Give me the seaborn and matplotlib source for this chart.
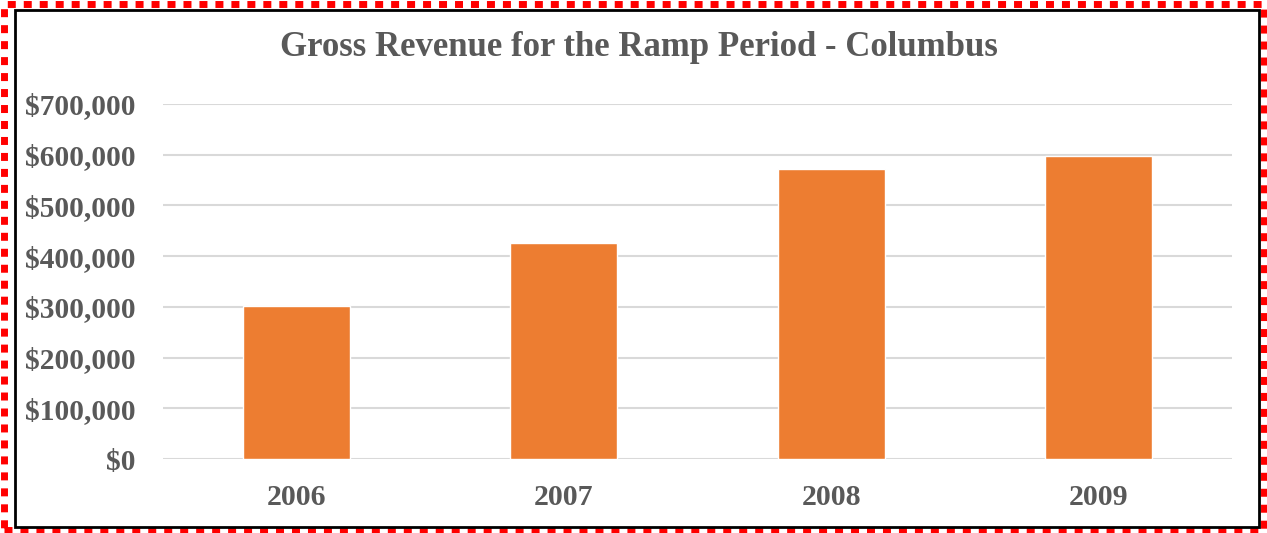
"""
Gross revenue bar chart - Columbus ramp period
"""

import matplotlib.pyplot as plt
import matplotlib.patches as mpatches
import matplotlib.ticker as mticker
import seaborn as sns
import pandas as pd

# chart data
years = ['2006', '2007', '2008', '2009']
revenue = [302000, 426000, 571000, 598000]
y_ticks = [0, 100000, 200000, 300000, 400000, 500000, 600000, 700000]

df = pd.DataFrame({'Year': years, 'Revenue': revenue})

sns.set_theme(style='white')
plt.rcParams['font.family'] = ['Liberation Serif', 'DejaVu Serif']

TEXT_COLOR = '#595959'
BAR_COLOR = '#ED7D31'
GRID_COLOR = '#D9D9D9'

fig = plt.figure(figsize=(12.67, 5.33), dpi=100)
ax = fig.add_axes([163 / 1267, 1 - 459 / 533, (1232 - 163) / 1267, (459 - 104) / 533])

sns.barplot(data=df, x='Year', y='Revenue', color=BAR_COLOR, saturation=1,
            width=0.4, ax=ax, zorder=3)

ax.set_xlim(-0.5, 3.5)
ax.set_ylim(0, 700000)
ax.set_yticks(y_ticks)
ax.yaxis.set_major_formatter(mticker.FuncFormatter(lambda v, p: f'${v:,.0f}'))
ax.grid(True, axis='y', color=GRID_COLOR, linewidth=1.5, zorder=0)
ax.set_axisbelow(True)
for s in ax.spines.values():
    s.set_visible(False)
ax.set_xlabel('')
ax.set_ylabel('')
ax.tick_params(axis='y', length=0, labelsize=21.2, labelcolor=TEXT_COLOR, pad=19.5)
ax.tick_params(axis='x', length=0, labelsize=21.5, labelcolor=TEXT_COLOR, pad=18)
for lbl in ax.get_xticklabels() + ax.get_yticklabels():
    lbl.set_fontweight('bold')

fig.text(639 / 1267, 1 - 48 / 533, 'Gross Revenue for the Ramp Period - Columbus',
         ha='center', va='center', fontsize=25, fontweight='bold', color=TEXT_COLOR)

# outer red dashed frame and inner black border
fig.patches.append(mpatches.Rectangle((3.5 / 1267, 3.5 / 533), 1 - 7 / 1267, 1 - 7 / 533,
                                      transform=fig.transFigure, fill=False,
                                      edgecolor='#FF0000', linewidth=5, linestyle=(0, (1.15, 1.15)),
                                      capstyle='butt'))
fig.patches.append(mpatches.Rectangle((15 / 1267, 1 - 527 / 533), (1259 - 15) / 1267, (527 - 10) / 533,
                                      transform=fig.transFigure, fill=False,
                                      edgecolor='#000000', linewidth=2))

fig.savefig('out.png', dpi=100)
